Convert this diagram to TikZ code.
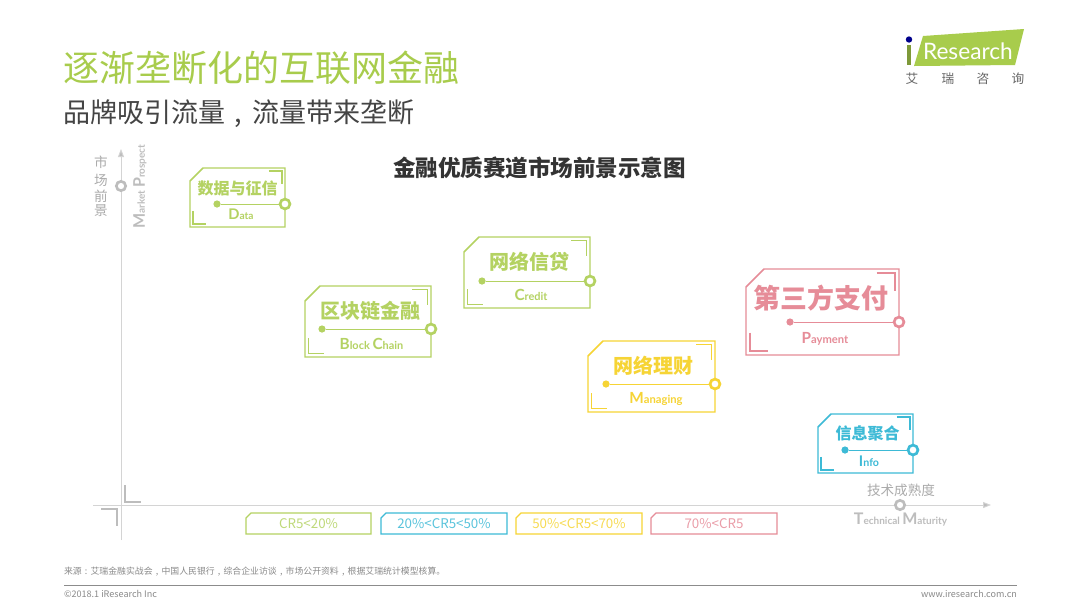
\documentclass[tikz,border=0pt]{standalone}
\usepackage{fontspec}
\usetikzlibrary{arrows.meta}
\newfontfamily\cjk{Noto Sans CJK SC}
\newfontfamily\lat{Lato}
\setmainfont{Noto Sans CJK SC}
\definecolor{cgreen}{HTML}{B4D262}
\definecolor{cyellow}{HTML}{F6D435}
\definecolor{cpink}{HTML}{E68C98}
\definecolor{cblue}{HTML}{3DBAD6}
\definecolor{ctitle}{HTML}{A8CC4C}
\definecolor{caxis}{HTML}{D4D4D4}
\definecolor{clabel}{HTML}{BDBDBD}
\definecolor{czh}{HTML}{ABABAB}
\definecolor{cdark}{HTML}{444444}
\definecolor{cfoot}{HTML}{8A8A8A}
\tikzset{
  txt/.style={inner sep=0pt,outer sep=0pt,anchor=center},
  frame/.style={line width=1.1pt,line join=miter},
  bracket/.style={line width=1.2pt},
  dotnode/.style={circle,fill=#1,inner sep=0pt,minimum size=5.4pt},
  ringnode/.style={circle,draw=#1,fill=white,line width=2pt,inner sep=0pt,minimum size=7.4pt},
  axisline/.style={draw=caxis,line width=0.7pt},
  axisring/.style={circle,draw=clabel,fill=white,line width=2pt,inner sep=0pt,minimum size=7pt},
  legendbox/.style={line width=1pt},
}
% name, colour, x0, y0, x1, y1, ring y, dot x, cut size; bracket inset and length follow the cut
\newcommand\card[9]{%
  \pgfmathsetmacro\ins{#9/4.2}%
  \pgfmathsetmacro\brk{#9}%
  \draw[frame,draw=#2] ({#3+#9},#4) -- (#5,#4) -- (#5,#6) -- (#3,#6) -- (#3,{#4+#9}) -- cycle;
  \draw[bracket,draw=#2] ({#5-\ins-\brk},{#4+\ins}) -- ({#5-\ins},{#4+\ins}) -- ({#5-\ins},{#4+\ins+\brk});
  \draw[bracket,draw=#2] ({#3+\ins},{#6-\ins-\brk}) -- ({#3+\ins},{#6-\ins}) -- ({#3+\ins+\brk},{#6-\ins});
  \node[dotnode=#2] (#1dot) at (#8,#7) {};
  \node[ringnode=#2] (#1ring) at (#5,#7) {};
  \draw[draw=#2,line width=0.55pt] (#1dot) -- (#1ring);
}
% name, colour, x0, x1, text
\newcommand\legend[5]{%
  \draw[legendbox,draw=#2] ({#3+5},513) -- (#4,513) -- (#4,534) -- (#3,534) -- (#3,518) -- cycle;
  \node[txt,text=#2!85] (#1) at ({(#3+#4)/2},524) {\fontsize{10}{10}\selectfont\cjk #5};
}
% latin label whose capitals are set larger: big size, small size, capital, rest
\newcommand\enw[4]{\fontsize{#1}{#1}\selectfont #3\fontsize{#2}{#2}\selectfont #4}
\newcommand\comma{\makebox[1em][c]{,}}
\begin{document}
\begin{tikzpicture}[x=0.75pt,y=-0.75pt]
\useasboundingbox[fill=white] (0,0) rectangle (1080,608);
% titles
\node[txt,anchor=west,text=ctitle] (title) at (63,68) {\fontsize{27}{27}\selectfont\cjk 逐渐垄断化的互联网金融};
\node[txt,anchor=west,text=cdark] (subtitle) at (63,114) {\fontsize{20.25}{20.25}\selectfont\cjk 品牌吸引流量\comma 流量带来垄断};
\node[txt,text=black!80] (chart) at (539.5,168) {\fontsize{16.9}{16.9}\selectfont\cjk\bfseries 金融优质赛道市场前景示意图};
% logo
\fill[ctitle] (923,36) -- (1024,29) -- (1015,65) -- (914,66) -- cycle;
\node[txt,anchor=west,text=white] (logotext) at (923,51) {\fontsize{17}{17}\selectfont\lat Research};
\fill[ctitle!75!black] (907.3,45) rectangle (911,65);
\fill[blue!55!black] (909,39.5) circle (3.2);
\foreach \nm/\xx/\ch in {la/912/艾,lb/948/瑞,lc/983/咨,ld/1018/询}
  \node[txt,text=black!60] (\nm) at (\xx,79) {\fontsize{9.5}{9.5}\selectfont\cjk \ch};
% axes
\coordinate (ybot) at (121,540);
\coordinate (ytop) at (121,149);
\coordinate (xl) at (93,505);
\coordinate (xr) at (991,505);
\draw[axisline,-{Triangle[length=6pt,width=4.5pt,fill=clabel]}] (ybot) -- (ytop);
\draw[axisline,-{Triangle[length=6pt,width=4.5pt,fill=clabel]}] (xl) -- (xr);
\node[axisring] (yring) at (121,186) {};
\node[axisring] (xring) at (900,505) {};
\draw[draw=clabel,line width=1.1pt] (125,485) -- (125,502) -- (141,502);
\draw[draw=clabel,line width=1.1pt] (101,509) -- (117,509) -- (117,526);
\foreach \nm/\yy/\ch in {ya/162/市,yb/180/场,yc/196/前,yd/211/景}
  \node[txt,text=czh] (\nm) at (101,\yy) {\fontsize{10.2}{10.2}\selectfont\cjk \ch};
\node[txt,rotate=90,text=clabel] (ylab) at (140,186.5) {\lat\bfseries\enw{12}{7.5}{M}{arket} \enw{12}{7.5}{P}{rospect}};
\node[txt,text=czh] (xzh) at (901,490) {\fontsize{10.2}{10.2}\selectfont\cjk 技术成熟度};
\node[txt,text=clabel] (xlab) at (900.5,520) {\lat\bfseries\enw{12}{7.5}{T}{echnical} \enw{12}{7.5}{M}{aturity}};
% cards
\card{data}{cgreen}{190}{168}{285}{227}{204}{217}{13}
\node[txt,text=cgreen] (datazh) at (237.5,188) {\fontsize{12}{12}\selectfont\cjk\bfseries 数据与征信};
\node[txt,text=cgreen] (dataen) at (241,214) {\lat\bfseries\enw{11}{7.6}{D}{ata}};
\card{block}{cgreen}{305}{286}{431}{357}{329}{322}{15}
\node[txt,text=cgreen] (blockzh) at (370.5,311) {\fontsize{15}{15}\selectfont\cjk\bfseries 区块链金融};
\node[txt,text=cgreen] (blocken) at (371.5,344) {\lat\bfseries\enw{11.5}{8.2}{B}{lock} \enw{11.5}{8.2}{C}{hain}};
\card{credit}{cgreen}{464}{237}{590}{308}{281}{482}{15}
\node[txt,text=cgreen] (creditzh) at (529.5,262) {\fontsize{15}{15}\selectfont\cjk\bfseries 网络信贷};
\node[txt,text=cgreen] (crediten) at (531,295) {\lat\bfseries\enw{11.5}{8.2}{C}{redit}};
\card{manage}{cyellow}{588}{341}{715}{412}{384}{606}{15}
\node[txt,text=cyellow] (managezh) at (653,366) {\fontsize{15}{15}\selectfont\cjk\bfseries 网络理财};
\node[txt,text=cyellow] (manageen) at (656,399) {\lat\bfseries\enw{11.5}{8.4}{M}{anaging}};
\card{pay}{cpink}{746}{269}{899}{355}{322}{790}{18}
\node[txt,text=cpink] (payzh) at (821,298) {\fontsize{20.2}{20.2}\selectfont\cjk\bfseries 第三方支付};
\node[txt,text=cpink] (payen) at (825,339) {\lat\bfseries\enw{11.5}{8.4}{P}{ayment}};
\card{info}{cblue}{818}{414}{913}{473}{450}{845}{13}
\node[txt,text=cblue] (infozh) at (867.5,433) {\fontsize{12}{12}\selectfont\cjk\bfseries 信息聚合};
\node[txt,text=cblue] (infoen) at (869,461) {\lat\bfseries\enw{11}{8}{I}{nfo}};
% legend
\legend{lega}{cgreen}{246}{371}{CR5<20\%}
\legend{legb}{cblue}{381}{507}{20\%<CR5<50\%}
\legend{legc}{cyellow}{516}{642}{50\%<CR5<70\%}
\legend{legd}{cpink}{651}{777}{70\%<CR5}
% footer
\node[txt,anchor=west,text=cfoot] (source) at (64,572) {\fontsize{6.65}{6.65}\selectfont\cjk 来源\makebox[1em][c]{:}艾瑞金融实战会\comma 中国人民银行\comma 综合企业访谈\comma 市场公开资料\comma 根据艾瑞统计模型核算。};
\coordinate (fl) at (64,585);
\coordinate (fr) at (1017,585);
\draw[draw=black!45,line width=0.5pt] (fl) -- (fr);
\node[txt,anchor=west,text=cfoot] (copy) at (64,594) {\fontsize{6.8}{6.8}\selectfont\cjk ©2018.1 iResearch Inc};
\node[txt,anchor=east,text=cfoot] (web) at (1017,594) {\fontsize{6.8}{6.8}\selectfont\cjk www.iresearch.com.cn};
\end{tikzpicture}
\end{document}
